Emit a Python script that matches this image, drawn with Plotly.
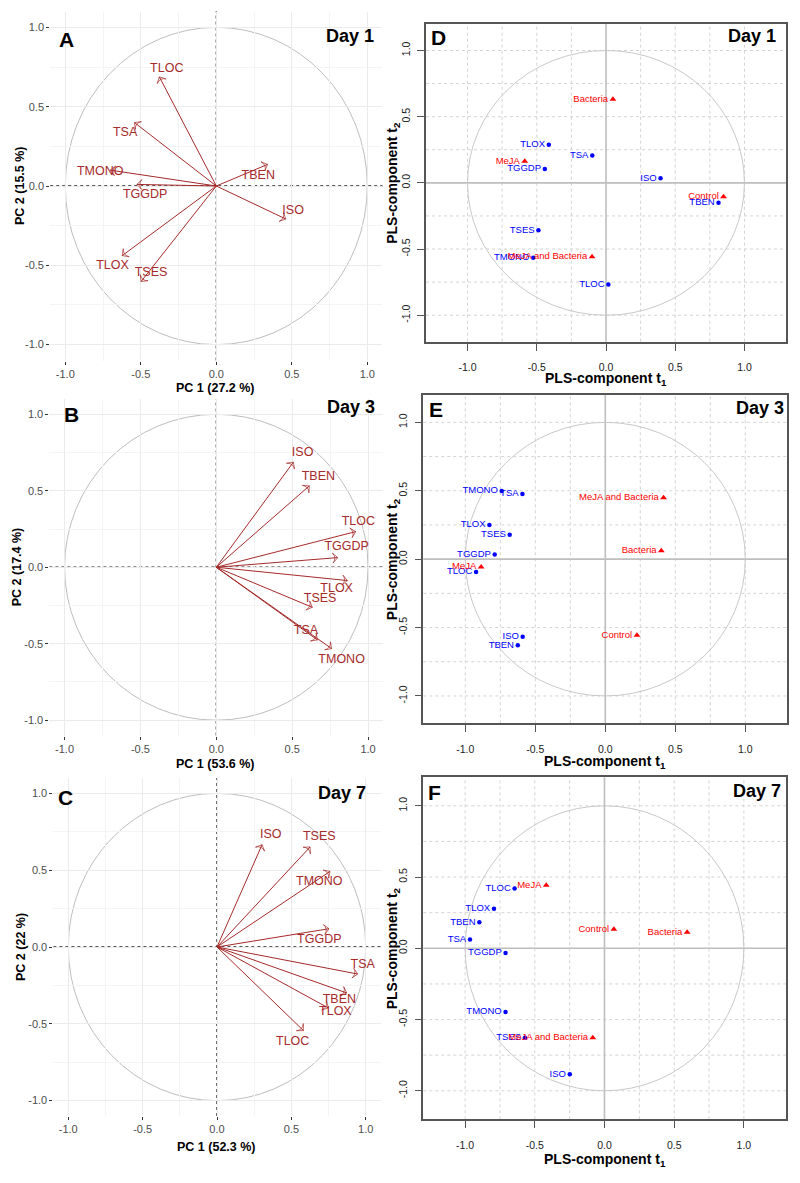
import plotly.graph_objects as go

W, H = 800, 1183

# ------------------------- DATA -------------------------
# PCA variable loadings (panels A-C)
vars_A = ["TLOC", "TSA", "TMONO", "TGGDP", "TBEN", "ISO", "TLOX", "TSES"]
pc1_A = [-0.377, -0.542, -0.703, -0.526, 0.339, 0.460, -0.623, -0.498]
pc2_A = [0.688, 0.400, 0.100, 0.010, 0.136, -0.208, -0.439, -0.602]
labx_A = [-0.328, -0.604, -0.769, -0.471, 0.278, 0.509, -0.687, -0.432]
laby_A = [0.740, 0.336, 0.090, -0.057, 0.065, -0.155, -0.502, -0.550]

vars_B = ["ISO", "TBEN", "TLOC", "TGGDP", "TLOX", "TSES", "TSA", "TMONO"]
pc1_B = [0.508, 0.613, 0.919, 0.800, 0.864, 0.633, 0.666, 0.760]
pc2_B = [0.687, 0.532, 0.233, 0.063, -0.087, -0.262, -0.475, -0.532]
labx_B = [0.569, 0.673, 0.936, 0.859, 0.793, 0.684, 0.591, 0.826]
laby_B = [0.746, 0.589, 0.294, 0.131, -0.144, -0.209, -0.414, -0.606]

vars_C = ["ISO", "TSES", "TMONO", "TGGDP", "TSA", "TBEN", "TLOX", "TLOC"]
pc1_C = [0.303, 0.626, 0.760, 0.753, 0.946, 0.872, 0.749, 0.581]
pc2_C = [0.666, 0.651, 0.492, 0.119, -0.176, -0.299, -0.397, -0.544]
labx_C = [0.361, 0.688, 0.688, 0.688, 0.980, 0.823, 0.796, 0.509]
laby_C = [0.727, 0.714, 0.423, 0.048, -0.115, -0.347, -0.425, -0.620]

pca_xtitles = ["PC 1 (27.2 %)", "PC 1 (53.6 %)", "PC 1 (52.3 %)"]
pca_ytitles = ["PC 2 (15.5 %)", "PC 2 (17.4 %)", "PC 2 (22 %)"]

# PLS correlation circles (panels D-F)
groups = ["Bacteria", "MeJA", "Control", "MeJA and Bacteria"]

varsD = ["TLOX", "TSA", "TGGDP", "ISO", "TBEN", "TSES", "TMONO", "TLOC"]
t1_vars_D = [-0.413, -0.099, -0.442, 0.394, 0.8125, -0.488, -0.526, 0.017]
t2_vars_D = [0.288, 0.206, 0.105, 0.035, -0.150, -0.358, -0.566, -0.767]
t1_grp_D = [0.050, -0.587, 0.849, -0.101]
t2_grp_D = [0.632, 0.163, -0.105, -0.559]

varsE = ["TMONO", "TSA", "TLOX", "TSES", "TGGDP", "TLOC", "ISO", "TBEN"]
t1_vars_E = [-0.740, -0.592, -0.828, -0.683, -0.790, -0.923, -0.590, -0.625]
t2_vars_E = [0.499, 0.477, 0.249, 0.179, 0.034, -0.094, -0.567, -0.630]
t1_grp_E = [0.400, -0.887, 0.226, 0.416]
t2_grp_E = [0.061, -0.058, -0.557, 0.448]

varsF = ["TLOC", "TLOX", "TBEN", "TSA", "TGGDP", "TMONO", "TSES", "ISO"]
t1_vars_F = [-0.645, -0.793, -0.898, -0.965, -0.710, -0.710, -0.571, -0.249]
t2_vars_F = [0.419, 0.278, 0.182, 0.061, -0.033, -0.447, -0.627, -0.884]
t1_grp_F = [0.593, -0.418, 0.067, -0.084]
t2_grp_F = [0.112, 0.442, 0.133, -0.627]

panel_letters = ["A", "B", "C", "D", "E", "F"]
panel_days = ["Day 1", "Day 3", "Day 7", "Day 1", "Day 3", "Day 7"]

tick_vals = [-1.0, -0.5, 0.0, 0.5, 1.0]
tick_text = ["-1.0", "-0.5", "0.0", "0.5", "1.0"]
minor_vals = [-0.75, -0.25, 0.25, 0.75]
grid_vals = [-1.0, -0.75, -0.5, -0.25, 0.25, 0.5, 0.75, 1.0]

# ------------------------- STYLE -------------------------
ARROW = "#A52A2A"
BLUE = "#0000FF"
REDC = "#FF0000"
FONT = "Liberation Sans, Arial, Helvetica, sans-serif"
NARROW = "Liberation Sans Narrow, Arial Narrow, Liberation Sans, sans-serif"

# pixel boxes (left, top, right, bottom)
boxes = [
    (50.2, 11.5, 382.4, 360.5),
    (49.4, 399.0, 383.2, 735.5),
    (53.4, 778.0, 380.6, 1116.0),
    (426.0, 24.0, 786.0, 341.7),
    (423.3, 395.0, 787.3, 723.3),
    (423.3, 777.3, 785.7, 1119.3),
]
letter_pos = [(66, 40), (71, 414), (65, 797), (438, 37), (436, 409), (435, 793)]
day_pos = [(350, 36), (351, 407), (342, 793), (752, 36), (760, 408), (757, 791)]
xtitle_y = [388, 764, 1147, 379, 762, 1160]
ytitle_x = [20, 17, 21, 393, 393, 393]


def px(x):
    return x / W


def py(y):
    return 1 - y / H


fig = go.Figure()
layout = dict(
    width=W, height=H, margin=dict(l=0, r=0, t=0, b=0),
    paper_bgcolor="white", plot_bgcolor="white", showlegend=False,
    font=dict(family=FONT),
)
shapes = []
annotations = []

pca_sets = [
    (vars_A, pc1_A, pc2_A, labx_A, laby_A),
    (vars_B, pc1_B, pc2_B, labx_B, laby_B),
    (vars_C, pc1_C, pc2_C, labx_C, laby_C),
]
pls_sets = [
    (varsD, t1_vars_D, t2_vars_D, t1_grp_D, t2_grp_D),
    (varsE, t1_vars_E, t2_vars_E, t1_grp_E, t2_grp_E),
    (varsF, t1_vars_F, t2_vars_F, t1_grp_F, t2_grp_F),
]

for i in range(6):
    n = i + 1
    xa = "xaxis" if n == 1 else f"xaxis{n}"
    ya = "yaxis" if n == 1 else f"yaxis{n}"
    xr = "x" if n == 1 else f"x{n}"
    yr = "y" if n == 1 else f"y{n}"
    l, t, r, b = boxes[i]
    xdom = [px(l), px(r)]
    ydom = [py(b), py(t)]

    if i < 3:
        names, xs, ys, lxs, lys = pca_sets[i]
        common = dict(
            range=[-1.1, 1.1], tickvals=tick_vals, ticktext=tick_text,
            showgrid=True, gridcolor="#EBEBEB", gridwidth=1,
            minor=dict(tickmode="array", tickvals=minor_vals, showgrid=True,
                       gridcolor="#F4F4F4", gridwidth=0.6, ticks=""),
            zeroline=False, showline=False, ticks="outside", ticklen=3,
            tickcolor="#333333", tickwidth=1,
            tickfont=dict(size=11, color="#4D4D4D", family=FONT),
            fixedrange=True,
        )
        layout[xa] = dict(domain=xdom, anchor=yr, **common)
        layout[ya] = dict(domain=ydom, anchor=xr, **common)
        # dashed zero lines
        shapes.append(dict(type="line", xref=f"{xr} domain", yref=yr, x0=0, x1=1, y0=0, y1=0,
                           line=dict(color="#222222", width=1.3, dash="3px,3px"), layer="below"))
        shapes.append(dict(type="line", yref=f"{yr} domain", xref=xr, y0=0, y1=1, x0=0, x1=0,
                           line=dict(color="#222222", width=1.3, dash="3px,3px"), layer="below"))
        # unit circle
        shapes.append(dict(type="circle", xref=xr, yref=yr, x0=-1, y0=-1, x1=1, y1=1,
                           line=dict(color="#BDBDBD", width=1), layer="below"))
        # arrows from the origin to each loading
        for xv, yv in zip(xs, ys):
            fig.add_trace(go.Scatter(
                x=[0, xv], y=[0, yv], mode="lines+markers", xaxis=xr, yaxis=yr,
                line=dict(color=ARROW, width=1),
                marker=dict(symbol=["circle", "arrow-wide-open"], size=[0, 7],
                            angleref="previous", color=ARROW,
                            line=dict(color=ARROW, width=1)),
                hoverinfo="skip", cliponaxis=False))
        fig.add_trace(go.Scatter(
            x=lxs, y=lys, mode="text", text=names, xaxis=xr, yaxis=yr,
            textfont=dict(color=ARROW, size=12.5, family=FONT),
            hoverinfo="skip", cliponaxis=False))
        xtitle = pca_xtitles[i]
        ytitle = pca_ytitles[i]
        tsize = 12.5
        xcenter = (l + r) / 2 - 1
    else:
        names, xs, ys, gx, gy = pls_sets[i - 3]
        common = dict(
            tickvals=tick_vals, ticktext=tick_text, showgrid=False, zeroline=False,
            showline=True, mirror=True, linecolor="#555555", linewidth=1.6,
            ticks="outside", ticklen=7, tickcolor="#555555", tickwidth=1.2,
            tickfont=dict(size=10.5, color="#222222", family=NARROW),
            fixedrange=True,
        )
        layout[xa] = dict(domain=xdom, anchor=yr, range=[-1.3, 1.3],
                          ticklabelstandoff=8, **common)
        layout[ya] = dict(domain=ydom, anchor=xr, range=[-1.2, 1.2],
                          tickangle=-90, ticklabelstandoff=3, **common)
        for v in grid_vals:
            shapes.append(dict(type="line", xref=xr, yref=f"{yr} domain", x0=v, x1=v, y0=0, y1=1,
                               line=dict(color="#D3D3D3", width=1, dash="dot"), layer="below"))
            shapes.append(dict(type="line", yref=yr, xref=f"{xr} domain", y0=v, y1=v, x0=0, x1=1,
                               line=dict(color="#D3D3D3", width=1, dash="dot"), layer="below"))
        shapes.append(dict(type="line", xref=xr, yref=f"{yr} domain", x0=0, x1=0, y0=0, y1=1,
                           line=dict(color="#BEBEBE", width=1.6), layer="below"))
        shapes.append(dict(type="line", yref=yr, xref=f"{xr} domain", y0=0, y1=0, x0=0, x1=1,
                           line=dict(color="#BEBEBE", width=1.6), layer="below"))
        shapes.append(dict(type="circle", xref=xr, yref=yr, x0=-1, y0=-1, x1=1, y1=1,
                           line=dict(color="#C8C8C8", width=1), layer="below"))
        fig.add_trace(go.Scatter(
            x=xs, y=ys, mode="markers+text", text=names, textposition="middle left",
            xaxis=xr, yaxis=yr, marker=dict(color=BLUE, size=4.5, symbol="circle"),
            textfont=dict(color=BLUE, size=9.5, family=NARROW),
            hoverinfo="skip", cliponaxis=False))
        fig.add_trace(go.Scatter(
            x=gx, y=gy, mode="markers+text", text=groups, textposition="middle left",
            xaxis=xr, yaxis=yr, marker=dict(color=REDC, size=6, symbol="triangle-up"),
            textfont=dict(color=REDC, size=9.5, family=NARROW),
            hoverinfo="skip", cliponaxis=False))
        xtitle = "PLS-component t<sub>1</sub>"
        ytitle = "PLS-component t<sub>2</sub>"
        tsize = 14
        xcenter = (l + r) / 2

    # panel letter and day
    lx, ly = letter_pos[i]
    annotations.append(dict(x=px(lx), y=py(ly), xref="paper", yref="paper", text=f"<b>{panel_letters[i]}</b>",
                            showarrow=False, xanchor="center", yanchor="middle",
                            font=dict(size=21, color="black", family=FONT)))
    dx, dy = day_pos[i]
    annotations.append(dict(x=px(dx), y=py(dy), xref="paper", yref="paper", text=f"<b>{panel_days[i]}</b>",
                            showarrow=False, xanchor="center", yanchor="middle",
                            font=dict(size=18, color="black", family=FONT)))
    # axis titles
    annotations.append(dict(x=px(xcenter), y=py(xtitle_y[i]), xref="paper", yref="paper",
                            text=f"<b>{xtitle}</b>", showarrow=False, xanchor="center", yanchor="middle",
                            font=dict(size=tsize, color="black", family=FONT)))
    annotations.append(dict(x=px(ytitle_x[i]), y=py((t + b) / 2), xref="paper", yref="paper",
                            text=f"<b>{ytitle}</b>", showarrow=False, xanchor="center", yanchor="middle",
                            textangle=-90, font=dict(size=tsize, color="black", family=FONT)))

layout["shapes"] = shapes
layout["annotations"] = annotations
fig.update_layout(**layout)
fig.write_html("out.html", config={"displayModeBar": False},
               post_script="document.body.style.margin='0';document.body.style.overflow='hidden';")
